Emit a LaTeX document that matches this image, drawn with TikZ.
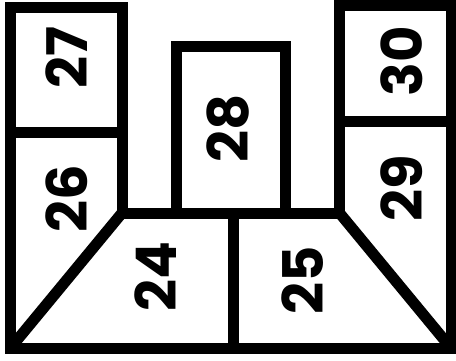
\documentclass[tikz,border=0pt]{standalone}
\usepackage{fontspec}
\setmainfont{Poppins}
\usetikzlibrary{positioning}
\tikzset{
  wall/.style={line width=11pt, line cap=rect},
  slant/.style={line width=11pt},
  numlabel/.style={font=\fontsize{56}{60}\selectfont\bfseries, rotate=90, inner sep=0pt}
}

\begin{document}
\begin{tikzpicture}[x=1pt, y=-1pt]
    \useasboundingbox (0,0) rectangle (456,360);

    % outer outline
    \draw[wall] (122,213) -- (122,7.5) -- (10.5,7.5) -- (10.5,348) -- (451,348)
        -- (451,5) -- (339.5,5) -- (339.5,213) -- cycle;

    % middle box
    \draw[wall] (176,213) -- (176,46) -- (285.5,46) -- (285.5,213);

    % dividers
    \draw[wall] (10.5,132) -- (122,132);
    \draw[wall] (339.5,121) -- (451,121);
    \draw[wall] (233,213) -- (233,348);

    % slanted sides
    \draw[slant] (122,213) -- (10.5,348);
    \draw[slant] (339.5,213) -- (451,348);

    % numbers
    \node[numlabel] (n27) at (67,58) {27};
    \node[numlabel] (n26) at (67,199) {26};
    \node[numlabel] (n28) at (228,128) {28};
    \node[numlabel] (n30) at (402,61) {30};
    \node[numlabel] (n29) at (402,188) {29};
    \node[numlabel] (n24) at (156,277) {24};
    \node[numlabel] (n25) at (303,280) {25};
\end{tikzpicture}
\end{document}
